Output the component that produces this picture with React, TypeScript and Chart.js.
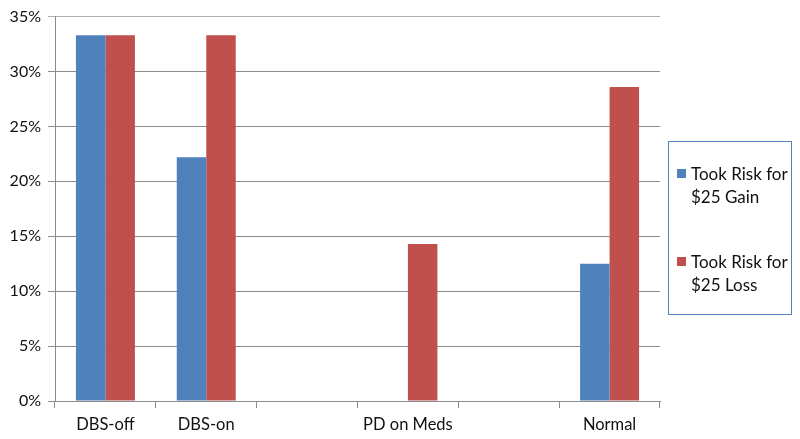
import React, { useEffect, useRef } from "react";
import { Chart, registerables } from "chart.js";

Chart.register(...registerables);

const categories = ["DBS-off", "DBS-on", "", "PD on Meds", "", "Normal"];
const gainValues = [33.3, 22.2, null, null, null, 12.5];
const lossValues = [33.3, 33.3, null, 14.3, null, 28.6];
const seriesNames = [["Took Risk for", "$25 Gain"], ["Took Risk for", "$25 Loss"]];
const seriesColors = ["#4F81BD", "#C0504D"];
const yTicks = [0, 5, 10, 15, 20, 25, 30, 35];

const FONT = "Lato, 'Open Sans', sans-serif";

export default function App() {
  const ref = useRef<HTMLCanvasElement | null>(null);

  useEffect(() => {
    if (!ref.current) return;
    const chart = new Chart(ref.current, {
      type: "bar",
      data: {
        labels: categories,
        datasets: [
          {
            label: seriesNames[0].join(" "),
            data: gainValues,
            backgroundColor: seriesColors[0],
            borderWidth: 0,
            categoryPercentage: 0.585,
            barPercentage: 1,
          },
          {
            label: seriesNames[1].join(" "),
            data: lossValues,
            backgroundColor: seriesColors[1],
            borderWidth: 0,
            categoryPercentage: 0.585,
            barPercentage: 1,
          },
        ],
      },
      options: {
        animation: false,
        responsive: false,
        maintainAspectRatio: false,
        layout: { padding: { top: 14, right: 140, left: 0, bottom: 0 } },
        plugins: {
          legend: { display: false },
          tooltip: { enabled: false },
        },
        scales: {
          x: {
            offset: true,
            grid: {
              offset: true,
              drawOnChartArea: false,
              drawTicks: true,
              tickLength: 7,
              color: "#8c8c8c",
            },
            border: { display: true, color: "#8c8c8c", width: 1 },
            ticks: {
              color: "#111",
              font: { family: FONT, size: 16.5 },
              padding: 7,
              maxRotation: 0,
              autoSkip: false,
            },
            afterFit: (s: any) => {
              s.height = 38;
            },
          },
          y: {
            min: 0,
            max: 35,
            afterBuildTicks: (s: any) => {
              s.ticks = yTicks.map((v) => ({ value: v }));
            },
            grid: {
              color: (ctx: any) => (ctx.tick && ctx.tick.value === 35 ? "#adadad" : "#8c8c8c"),
              tickLength: 7,
              lineWidth: 1,
            },
            border: { display: true, color: "#8c8c8c", width: 1 },
            ticks: {
              color: "#111",
              font: { family: FONT, size: 16 },
              padding: 7,
              callback: (v: any) => v + "%",
            },
            afterFit: (s: any) => {
              s.width = 55;
            },
          },
        },
      },
    });
    return () => chart.destroy();
  }, []);

  return (
    <div style={{ position: "fixed", left: 0, top: 0, width: 800, height: 439, background: "#fff" }}>
      <canvas ref={ref} width={800} height={439} style={{ display: "block" }} />
      <div
        style={{
          position: "absolute",
          left: 668,
          top: 141,
          width: 122,
          height: 172,
          border: "1px solid #4F81BD",
          fontFamily: FONT,
          fontSize: 17,
          color: "#111",
          boxSizing: "content-box",
        }}
      >
        {seriesNames.map((lines, i) => (
          <div
            key={i}
            style={{
              position: "absolute",
              left: 8,
              top: i === 0 ? 20 : 108,
              lineHeight: "23px",
            }}
          >
            <span
              style={{
                position: "absolute",
                left: 0,
                top: 7,
                width: 9,
                height: 9,
                background: seriesColors[i],
              }}
            />
            <div style={{ paddingLeft: 14, whiteSpace: "nowrap" }}>
              {lines.map((l, j) => (
                <div key={j}>{l}</div>
              ))}
            </div>
          </div>
        ))}
      </div>
    </div>
  );
}
